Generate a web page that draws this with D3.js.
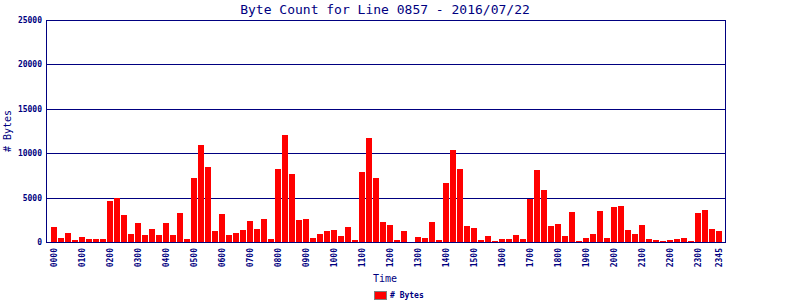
<!DOCTYPE html>
<html>
<head>
<meta charset="utf-8">
<script src="https://cdn.jsdelivr.net/npm/d3@7"></script>
<style>
  body { margin: 0; background: #fff; }
  svg { display: block; }
  text { font-family: "DejaVu Sans Mono", "Liberation Mono", monospace; fill: #000080; }
</style>
</head>
<body>
<svg id="chart" width="800" height="300"></svg>
<script>
  // 15 minute slots for the day
  var slots = [
    "0000","0015","0030","0045","0100","0115","0130","0145","0200","0215","0230","0245",
    "0300","0315","0330","0345","0400","0415","0430","0445","0500","0515","0530","0545",
    "0600","0615","0630","0645","0700","0715","0730","0745","0800","0815","0830","0845",
    "0900","0915","0930","0945","1000","1015","1030","1045","1100","1115","1130","1145",
    "1200","1215","1230","1245","1300","1315","1330","1345","1400","1415","1430","1445",
    "1500","1515","1530","1545","1600","1615","1630","1645","1700","1715","1730","1745",
    "1800","1815","1830","1845","1900","1915","1930","1945","2000","2015","2030","2045",
    "2100","2115","2130","2145","2200","2215","2230","2245","2300","2315","2330","2345"
  ]

  var bytes = [
    1720, 490, 1050, 260, 600, 375, 375, 375, 4650, 4990, 3080, 940,
    2180, 830, 1500, 830, 2180, 830, 3300, 375, 7240, 10950, 8470, 1280,
    3190, 830, 1050, 1390, 2400, 1500, 2620, 375, 8250, 12080, 7690, 2510,
    2620, 490, 940, 1280, 1390, 710, 1720, 260, 7910, 11740, 7240, 2290,
    1950, 260, 1280, 0, 600, 490, 2290, 260, 6680, 10390, 8250, 1840,
    1610, 260, 710, 150, 375, 375, 830, 375, 4880, 8140, 5890, 1840,
    2060, 710, 3410, 150, 490, 940, 3520, 490, 3980, 4090, 1390, 940,
    1950, 375, 260, 150, 260, 375, 490, 150, 3300, 3640, 1500, 1280
  ]

  var xTickLabels = ["0000","0100","0200","0300","0400","0500","0600","0700","0800","0900",
    "1000","1100","1200","1300","1400","1500","1600","1700","1800","1900","2000","2100",
    "2200","2300","2345"]
  var yTicks = [0, 5000, 10000, 15000, 20000, 25000]

  var svg = d3.select('#chart')
  var navy = '#000080'

  var plotLeft = 46
  var plotRight = 725
  var plotTop = 20
  var plotBottom = 242

  var xScale = d3.scaleBand().domain(slots).range([50.5, 722.5]).paddingInner(1/7).paddingOuter(1/14)
  var yScale = d3.scaleLinear().domain([0, 25000]).range([plotBottom, plotTop])

  // grid lines
  svg.selectAll('.grid').data(yTicks.slice(1, -1))
    .enter().append('line')
    .attr('class', 'grid')
    .attr('x1', plotLeft).attr('x2', plotRight)
    .attr('y1', function(d){ return Math.round(yScale(d)) + 0.5 })
    .attr('y2', function(d){ return Math.round(yScale(d)) + 0.5 })
    .style('stroke', navy)
    .style('stroke-width', 1)

  // bars
  svg.selectAll('.bar').data(slots)
    .enter().append('rect')
    .attr('class', 'bar')
    .attr('x', function(d){ return xScale(d) })
    .attr('width', xScale.bandwidth())
    .attr('y', function(d, i){ return yScale(bytes[i]) })
    .attr('height', function(d, i){ return plotBottom - yScale(bytes[i]) })
    .attr('fill', '#ff0000')
    .attr('shape-rendering', 'crispEdges')

  // plot frame
  svg.append('rect')
    .attr('x', plotLeft + 0.5).attr('y', plotTop + 0.5)
    .attr('width', plotRight - plotLeft).attr('height', plotBottom - plotTop)
    .attr('fill', 'none')
    .style('stroke', navy)
    .style('stroke-width', 1)

  // y axis labels
  var yAxis = svg.append('g')
    .attr('transform', 'translate(' + plotLeft + ',0)')
    .call(d3.axisLeft(yScale).tickValues(yTicks).tickSize(0).tickPadding(4).tickFormat(d3.format('d')))
  yAxis.select('.domain').remove()
  yAxis.selectAll('text')
    .style('font-family', '"DejaVu Sans Mono", monospace')
    .style('font-size', '8px')
    .style('font-weight', 'bold')
    .style('fill', navy)

  // x axis labels (vertical)
  var xAxis = svg.append('g')
    .attr('transform', 'translate(0,' + plotBottom + ')')
    .call(d3.axisBottom(xScale).tickValues(xTickLabels).tickSize(0))
  xAxis.select('.domain').remove()
  xAxis.selectAll('text')
    .attr('transform', 'rotate(-90)')
    .attr('x', -6)
    .attr('y', 0)
    .attr('dy', '0.32em')
    .style('text-anchor', 'end')
    .style('font-family', '"DejaVu Sans Mono", monospace')
    .style('font-size', '8px')
    .style('font-weight', 'bold')
    .style('fill', navy)

  // title
  svg.append('text')
    .attr('x', 385)
    .attr('y', 14)
    .attr('text-anchor', 'middle')
    .style('font-size', '13px')
    .text('Byte Count for Line 0857 - 2016/07/22')

  // axis titles
  svg.append('text')
    .attr('x', 385)
    .attr('y', 282)
    .attr('text-anchor', 'middle')
    .style('font-size', '10px')
    .text('Time')

  svg.append('text')
    .attr('transform', 'translate(11,' + ((plotTop + plotBottom) / 2) + ') rotate(-90)')
    .attr('text-anchor', 'middle')
    .style('font-size', '10px')
    .text('# Bytes')

  // legend
  svg.append('rect')
    .attr('x', 374.5).attr('y', 291.5)
    .attr('width', 12).attr('height', 8)
    .attr('fill', '#ff0000')
    .style('stroke', '#808080')
    .style('stroke-width', 1)

  svg.append('text')
    .attr('x', 390)
    .attr('y', 298)
    .style('font-size', '8px')
    .style('font-weight', 'bold')
    .text('# Bytes')
</script>
</body>
</html>
